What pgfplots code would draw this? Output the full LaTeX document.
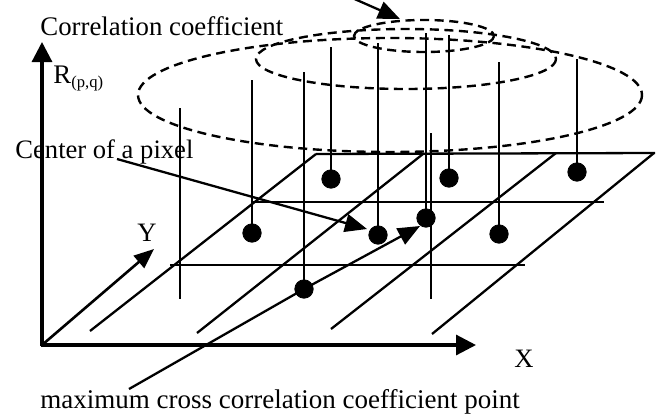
\documentclass[border=0pt]{standalone}
\usepackage{fontspec}
\setmainfont{Liberation Serif}
\usepackage{pgfplots}
\pgfplotsset{compat=1.18}
\usetikzlibrary{arrows.meta}
\tikzset{ln/.style={black, line width=1.15pt, mark=none, solid},
         arr/.style={ln, -{Triangle[length=11pt,width=9pt]}},
         dsh/.style={line width=1.2pt, dash pattern=on 4.5pt off 2.8pt}}
\begin{document}
\begin{tikzpicture}
\begin{axis}[
  width=329pt, height=206.5pt, scale only axis,
  xmin=0, xmax=658, ymin=0, ymax=413, y dir=reverse,
  hide axis, clip=true,
]
% plane: lines along Y
\addplot[ln] coordinates {(316,154) (90,331)};
\addplot[ln] coordinates {(423,154) (197,333)};
\addplot[ln] coordinates {(556,153) (331,329)};
\addplot[ln] coordinates {(654,153) (432,334)};
% plane: lines along X
\addplot[ln] coordinates {(316,154) (655,153)};
\addplot[ln] coordinates {(253,202) (604,202)};
\addplot[ln] coordinates {(170,265) (525,265)};
% vertical lines without a point
\addplot[ln] coordinates {(180,108) (180,299)};
\addplot[ln] coordinates {(431,133) (431,299)};
% stems
\addplot[ln] coordinates {(252,80) (252,233)};
\addplot[ln] coordinates {(304,72) (304,289)};
\addplot[ln] coordinates {(331,47) (331,179)};
\addplot[ln] coordinates {(378,43) (378,235)};
\addplot[ln] coordinates {(426,33) (426,218)};
\addplot[ln] coordinates {(449,35) (449,178)};
\addplot[ln] coordinates {(499,62) (499,234)};
\addplot[ln] coordinates {(577,59) (577,172)};
% pixel centres
\addplot[black, only marks, mark=*, mark size=4.6pt] coordinates {
  (252,233) (304,289) (331,179) (378,235) (426,218) (449,178) (499,234) (577,172)};
% correlation contours
\draw[dsh] (axis cs:390,95) ellipse [x radius=252, y radius=57];
\draw[dsh] (axis cs:406,59) ellipse [x radius=150, y radius=30];
\draw[dsh] (axis cs:424,36) ellipse [x radius=70, y radius=16];
% coordinate axes
\addplot[ln, line width=1.6pt, -{Triangle[length=10pt,width=10pt]}] coordinates {(42,346) (42,42)};
\addplot[ln, line width=1.6pt, -{Triangle[length=10pt,width=10pt]}] coordinates {(41,345) (476,345)};
\addplot[ln, line width=1.3pt, -{Triangle[length=10pt,width=8pt]}] coordinates {(42,345) (154,249)};
% annotation arrows
\addplot[arr] coordinates {(350,-3) (400,19)};
\addplot[arr] coordinates {(117,159) (367,229)};
\addplot[arr] coordinates {(129,389) (304,289) (420,226)};
% texts
\node[anchor=base west, inner sep=0pt, font=\fontsize{13.4}{16}\selectfont] at (axis cs:40,35) {Correlation coefficient};
\node[anchor=base west, inner sep=0pt, font=\fontsize{13.4}{16}\selectfont] at (axis cs:53,83) {R\raisebox{-2pt}{\fontsize{8.3}{9}\selectfont(p,q)}};
\node[anchor=base west, inner sep=0pt, font=\fontsize{13.3}{16}\selectfont] at (axis cs:15,158) {Center of a pixel};
\node[anchor=base west, inner sep=0pt, font=\fontsize{13.3}{16}\selectfont] at (axis cs:137,241) {Y};
\node[anchor=base west, inner sep=0pt, font=\fontsize{13.3}{16}\selectfont] at (axis cs:514,367) {X};
\node[anchor=base west, inner sep=0pt, font=\fontsize{13.5}{16}\selectfont] at (axis cs:40,408) {maximum cross correlation coefficient point};
\end{axis}
\pgfresetboundingbox
\useasboundingbox (current axis.south west) rectangle (current axis.north east);
\end{tikzpicture}
\end{document}
